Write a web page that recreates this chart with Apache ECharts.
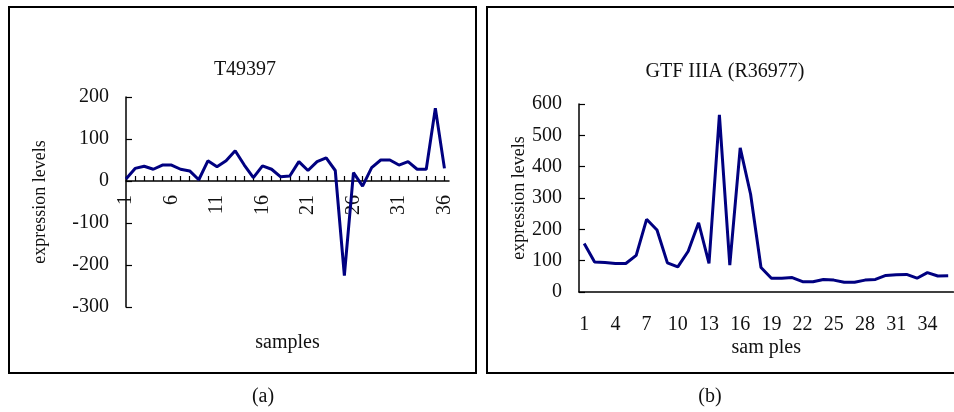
<!DOCTYPE html>
<html>
<head>
<meta charset="utf-8">
<script src="https://cdn.jsdelivr.net/npm/echarts@6/dist/echarts.min.js"></script>
<style>
html,body{margin:0;padding:0;background:#fff;}
#c{width:954px;height:412px;}
</style>
</head>
<body>
<div id="c"></div>
<script>
// Sample numbers (shared x categories)
var samples = [1,2,3,4,5,6,7,8,9,10,11,12,13,14,15,16,17,18,19,20,21,22,23,24,25,26,27,28,29,30,31,32,33,34,35,36];
// (a) T49397 expression levels
var t49397 = [5, 30, 35, 28, 38, 38, 28, 24, 3, 48, 34, 48, 72, 38, 8, 36, 28, 10, 12, 46, 25, 46, 55, 25, -225, 20, -12, 32, 50, 50, 38, 46, 28, 28, 173, 30];
// (b) GTF IIIA (R36977) expression levels
var gtf3a = [155, 96, 94, 91, 91, 117, 232, 198, 93, 80, 130, 221, 91, 565, 86, 460, 312, 78, 44, 44, 46, 33, 33, 40, 38, 31, 31, 38, 40, 53, 55, 56, 44, 62, 51, 52];
// Texts
var titleA = 'T49397';
var titleB = 'GTF IIIA (R36977)';
var yName = 'expression levels';
var xNameA = 'samples';
var xNameB = 'sam ples';

var FONT = '"Liberation Serif", "Times New Roman", serif';
var TXT = '#111';

var chart = echarts.init(document.getElementById('c'), null, {renderer: 'canvas'});
var option = {
  animation: false,
  backgroundColor: '#fff',
  grid: [
    {left: 126, top: 97, width: 323, height: 210, containLabel: false, outerBoundsMode: 'none'},
    {left: 579, top: 104, width: 374.4, height: 188, containLabel: false, outerBoundsMode: 'none'}
  ],
  xAxis: [
    {
      gridIndex: 0, type: 'value', min: 1, max: 36.5, interval: 1,
      position: 'bottom', offset: -126,
      axisLine: {onZero: false, lineStyle: {color: '#000', width: 1.5}},
      axisTick: {inside: true, length: 5, lineStyle: {color: '#000', width: 1.2}},
      splitLine: {show: false},
      axisLabel: {
        rotate: 90, margin: 14, color: TXT, fontFamily: FONT, fontSize: 20,
        showMaxLabel: false,
        formatter: function (v) { return (Number.isInteger(v) && (v - 1) % 5 === 0) ? String(v) : ''; }
      },
      name: xNameA, nameLocation: 'middle', nameGap: 152,
      nameTextStyle: {color: TXT, fontFamily: FONT, fontSize: 20}
    },
    {
      gridIndex: 1, type: 'category', data: samples.map(String), boundaryGap: true,
      axisLine: {lineStyle: {color: '#000', width: 1.5}},
      axisTick: {inside: true, length: 5, interval: 0, lineStyle: {color: '#000', width: 1.2}},
      axisLabel: {interval: 2, margin: 23, color: TXT, fontFamily: FONT, fontSize: 20},
      name: xNameB, nameLocation: 'middle', nameGap: 46,
      nameTextStyle: {color: TXT, fontFamily: FONT, fontSize: 20}
    }
  ],
  yAxis: [
    {
      gridIndex: 0, type: 'value', min: -300, max: 200, interval: 100,
      axisLine: {show: true, lineStyle: {color: '#000', width: 1.5}},
      axisTick: {show: true, inside: true, length: 6, lineStyle: {color: '#000', width: 1.2}},
      splitLine: {show: false},
      axisLabel: {margin: 17, color: TXT, fontFamily: FONT, fontSize: 20},
      name: yName, nameLocation: 'middle', nameGap: 77,
      nameTextStyle: {color: TXT, fontFamily: FONT, fontSize: 18}
    },
    {
      gridIndex: 1, type: 'value', min: 0, max: 600, interval: 100,
      axisLine: {show: true, lineStyle: {color: '#000', width: 1.5}},
      axisTick: {show: true, inside: true, length: 6, lineStyle: {color: '#000', width: 1.2}},
      splitLine: {show: false},
      axisLabel: {margin: 17, color: TXT, fontFamily: FONT, fontSize: 20},
      name: yName, nameLocation: 'middle', nameGap: 51,
      nameTextStyle: {color: TXT, fontFamily: FONT, fontSize: 18}
    }
  ],
  series: [
    {
      type: 'line', xAxisIndex: 0, yAxisIndex: 0, showSymbol: false, symbol: 'none',
      lineStyle: {color: '#000080', width: 3}, itemStyle: {color: '#000080'},
      data: t49397.map(function (v, i) { return [samples[i], v]; })
    },
    {
      type: 'line', xAxisIndex: 1, yAxisIndex: 1, showSymbol: false, symbol: 'none',
      lineStyle: {color: '#000080', width: 3}, itemStyle: {color: '#000080'},
      data: gtf3a
    }
  ],
  graphic: [
    {type: 'rect', shape: {x: 9, y: 7, width: 467, height: 366}, style: {fill: 'none', stroke: '#000', lineWidth: 2}},
    {type: 'rect', shape: {x: 487, y: 7, width: 470, height: 366}, style: {fill: 'none', stroke: '#000', lineWidth: 2}},
    {type: 'text', style: {text: titleA, x: 245, y: 70, textAlign: 'center', textVerticalAlign: 'middle', font: '20px ' + FONT, fill: TXT}},
    {type: 'text', style: {text: titleB, x: 725, y: 72, textAlign: 'center', textVerticalAlign: 'middle', font: '20px ' + FONT, fill: TXT}},
    {type: 'text', style: {text: '(a)', x: 263, y: 397, textAlign: 'center', textVerticalAlign: 'middle', font: '20px ' + FONT, fill: TXT}},
    {type: 'text', style: {text: '(b)', x: 710, y: 397, textAlign: 'center', textVerticalAlign: 'middle', font: '20px ' + FONT, fill: TXT}}
  ]
};
chart.setOption(option);
</script>
</body>
</html>
